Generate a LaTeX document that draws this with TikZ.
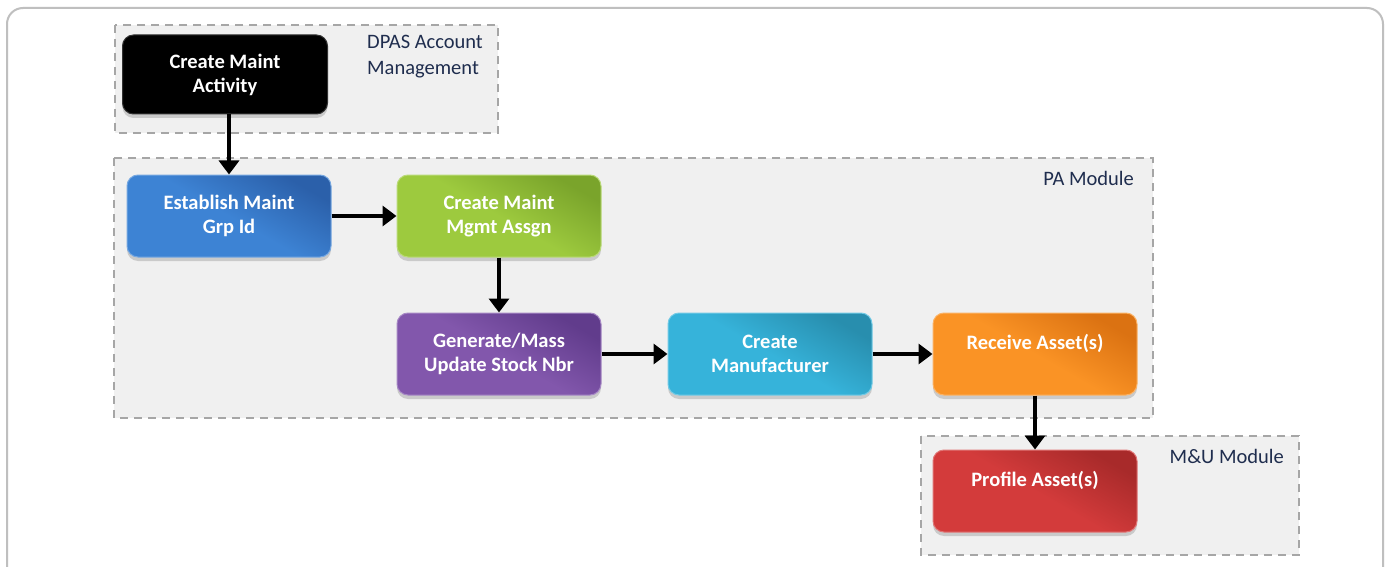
\documentclass[tikz,border=0pt]{standalone}
\usepackage{fontspec}
\setmainfont{Carlito}
\usetikzlibrary{arrows.meta,shadows}
\definecolor{frame}{HTML}{BFBFBF}
\definecolor{grpline}{HTML}{A6A6A6}
\definecolor{grpfill}{HTML}{F0F0F0}
\definecolor{labcol}{HTML}{1F2D4E}
\definecolor{blueL}{HTML}{3D83D4}\definecolor{blueD}{HTML}{2B60AA}
\definecolor{greenL}{HTML}{9DCA3E}\definecolor{greenD}{HTML}{7AA42B}
\definecolor{purpL}{HTML}{8257AC}\definecolor{purpD}{HTML}{613C8C}
\definecolor{cyanL}{HTML}{36B3DA}\definecolor{cyanD}{HTML}{288EAE}
\definecolor{oranL}{HTML}{FA9325}\definecolor{oranD}{HTML}{DB7212}
\definecolor{redL}{HTML}{D33B3B}\definecolor{redD}{HTML}{A82A2A}
\tikzset{
  grp/.style={draw=grpline, fill=grpfill, line width=1.8pt, dash pattern=on 8pt off 6pt},
  grplabel/.style={text=labcol, font=\fontsize{20.5}{26}\selectfont, align=left, inner sep=0pt},
  box/.style 2 args={rounded corners=11pt, minimum width=204pt, minimum height=82pt,
    inner sep=0pt, text=white, align=center, font=\bfseries\fontsize{20.5}{24}\selectfont,
    top color=#2, bottom color=#1, middle color=#1, shading angle=-30, draw=#1!70!white, line width=1pt,
    drop shadow={shadow xshift=0pt, shadow yshift=-4pt, fill=black!35, opacity=0.5}},
  flow/.style={line width=4pt, -{Triangle[width=20pt,length=14pt]}},
}
\begin{document}
\begin{tikzpicture}[x=1pt,y=-1pt]
\useasboundingbox (0,0) rectangle (1387,567);
\fill[white] (0,0) rectangle (1387,567);
\draw[frame, line width=2pt, rounded corners=16pt] (7,567) -- (7,8) -- (1383,8) -- (1383,567);
% groups
\draw[grp] (115,25) rectangle (498,133);
\draw[grp] (114,158) rectangle (1153,418);
\draw[grp] (921,436) rectangle (1299,555);
\node[grplabel, anchor=north west] (gdpas) at (367,35) {DPAS Account\\Management};
\node[grplabel, anchor=north east] (gpa) at (1134,171) {PA Module};
\node[grplabel, anchor=north east] (gmu) at (1284,449) {M\&U Module};
% nodes
\node[box={black}{black}, minimum width=205pt, minimum height=79pt, draw=black!80] (act) at (225,74.5) {Create Maint\\Activity};
\node[box={blueL}{blueD}] (grp) at (229,216) {Establish Maint\\Grp Id};
\node[box={greenL}{greenD}] (mgmt) at (499,216) {Create Maint\\Mgmt Assgn};
\node[box={purpL}{purpD}] (stock) at (499,354) {Generate/Mass\\Update Stock Nbr};
\node[box={cyanL}{cyanD}] (manu) at (770,354) {Create\\Manufacturer};
\node[box={oranL}{oranD}] (recv) at (1035,354) {Receive Asset(s)\\\mbox{}};
\node[box={redL}{redD}] (prof) at (1035,491) {Profile Asset(s)\\\mbox{}};
% connectors
\draw[flow] (act.south -| grp.north) -- (grp.north);
\draw[flow] (grp.east) -- (mgmt.west);
\draw[flow] (mgmt.south) -- (stock.north);
\draw[flow] (stock.east) -- (manu.west);
\draw[flow] (manu.east) -- (recv.west);
\draw[flow] (recv.south) -- (prof.north);
\end{tikzpicture}
\end{document}
